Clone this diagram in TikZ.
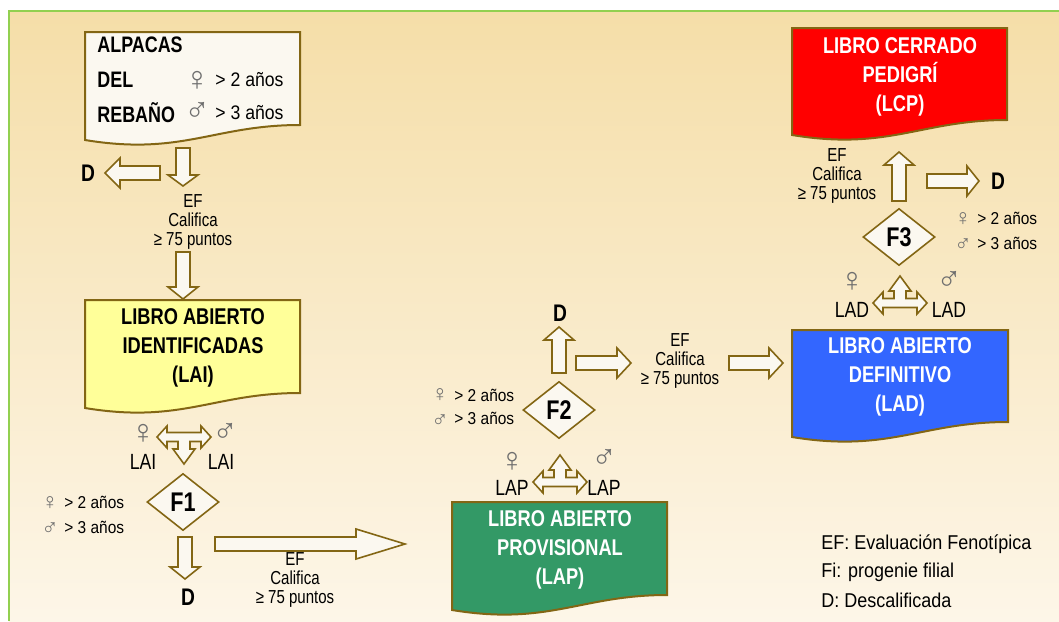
\documentclass[tikz,border=0pt]{standalone}
\usepackage{fontspec}
\setmainfont{Liberation Sans}[FakeStretch=0.9]
\newfontfamily\narrowfont{Liberation Sans}[FakeStretch=0.8]
\newfontfamily\symfont{Liberation Sans}
\usetikzlibrary{shapes.geometric}
\definecolor{bgtop}{RGB}{245,222,168}
\definecolor{bgbot}{RGB}{253,246,232}
\definecolor{framegreen}{RGB}{146,208,80}
\definecolor{brownline}{RGB}{131,102,20}
\definecolor{cream}{RGB}{251,248,240}
\definecolor{laiyellow}{RGB}{255,255,153}
\definecolor{lapgreen}{RGB}{51,153,102}
\definecolor{ladblue}{RGB}{51,102,255}
\definecolor{lcpred}{RGB}{255,0,0}
\definecolor{symgrey}{RGB}{110,110,110}
\tikzset{
	boxline/.style={draw=brownline, line width=1pt},
	arrowline/.style={draw=brownline, fill=cream, line width=0.8pt},
	boxtxt/.style={font=\narrowfont\bfseries\fontsize{11.4}{14.5}\selectfont, align=center, inner sep=0pt},
	herdtxt/.style={font=\narrowfont\bfseries\fontsize{11.2}{13}\selectfont, anchor=west, inner sep=0pt},
	eftxt/.style={font=\narrowfont\fontsize{9.4}{9.4}\selectfont, align=center, inner sep=0pt},
	agetxt/.style={font=\fontsize{8.6}{10}\selectfont, anchor=west, inner sep=0pt},
	sextxt/.style={font=\symfont\fontsize{17}{18}\selectfont, text=symgrey, inner sep=0pt, anchor=base, text height=7pt, text depth=1pt},
	sexstack/.style={font=\symfont\fontsize{11.5}{13}\selectfont, text=symgrey, inner sep=0pt, align=center},
	booktxt/.style={font=\narrowfont\fontsize{11}{12}\selectfont, inner sep=0pt},
	dtxt/.style={font=\narrowfont\bfseries\fontsize{12}{12}\selectfont, inner sep=0pt},
	filter/.style={diamond, draw=brownline, fill=cream, line width=0.8pt, inner sep=0pt, minimum width=36pt, minimum height=28.5pt, font=\narrowfont\bfseries\fontsize{13.5}{14}\selectfont},
	legtxt/.style={font=\fontsize{10}{11}\selectfont, anchor=west, inner sep=0pt},
	pics/blkarr/.style 2 args={code={% {length}{head length}, pointing right
		\draw[arrowline] (0,-7) -- ({#1-#2},-7) -- ({#1-#2},-15) -- (#1,0) -- ({#1-#2},15) -- ({#1-#2},7) -- (0,7) -- cycle;
	}},
	pics/teearr/.style={code={% double arrow with stem, stem pointing down
		\draw[arrowline] (-27,0) -- (-17,-11) -- (-17,-4.5) -- (17,-4.5) -- (17,-11) -- (27,0) -- (17,11) -- (17,4.5) -- (6,4.5) -- (6,12) -- (11,12) -- (0,27) -- (-11,12) -- (-6,12) -- (-6,4.5) -- (-17,4.5) -- (-17,11) -- cycle;
	}},
}
\newcommand{\docshape}[5]{% {fill}{left}{top}{right}{bottom right}
	\draw[boxline, fill=#1] (#2,#3) -- (#4,#3) -- (#4,#5)
	.. controls ({#4-0.4*(#4-#2)},#5) and ({#2+0.45*(#4-#2)},#5+31) .. (#2,#5+15) -- cycle;
}

\begin{document}
\begin{tikzpicture}[x=0.5pt, y=-0.5pt]
	\useasboundingbox (0,0) rectangle (1059,621);
	\fill[top color=bgtop, bottom color=bgbot] (9,11) rectangle (1059,621);
	\draw[framegreen, line width=1.2pt] (9,621) -- (9,11) -- (1059,11);

	% herd (sex symbols placed by baseline)
	\docshape{cream}{85}{32}{300}{125}
	\node[herdtxt] (alp1) at (97,45) {ALPACAS};
	\node[herdtxt] (alp2) at (97,80) {DEL};
	\node[herdtxt] (alp3) at (97,113) {REBAÑO};
	\node[sextxt] (alpf) at (197,90) {♀};
	\node[sextxt] (alpm) at (197,121) {♂};
	\node[agetxt, font=\fontsize{9.8}{11}\selectfont] (alpfa) at (215,80) {> 2 años};
	\node[agetxt, font=\fontsize{9.8}{11}\selectfont] (alpma) at (215,113) {> 3 años};
	\pic (a1) [rotate=-90] at (183,148) {blkarr={38}{11}};
	\pic (a2) [rotate=180] at (160,173) {blkarr={55}{15}};
	\node[dtxt] (d1) at (88,173) {D};
	\node[eftxt] (ef1) at (193,222) {EF\\Califica\\≥ 75 puntos};
	\pic (a3) [rotate=-90] at (183,252) {blkarr={47}{12}};

	% LAI
	\docshape{laiyellow}{85}{300}{300}{393}
	\node[boxtxt] (lai) at (193,348) {LIBRO ABIERTO\\IDENTIFICADAS\\(LAI)};
	\pic (t1) at (184,437) {teearr};
	\node[sextxt] (laif) at (143,443) {♀};
	\node[booktxt] (laifl) at (143,462) {LAI};
	\node[sextxt] (laim) at (225,442) {♂};
	\node[booktxt] (laiml) at (221,462) {LAI};
	\node[filter] (f1) at (183,502) {F1};
	\node[sexstack] (f1sex) at (50,522) {\smash{♀}\\\smash{♂}};
	\node[agetxt] (f1fa) at (64,502) {> 2 años};
	\node[agetxt] (f1ma) at (64,527) {> 3 años};
	\pic (a4) [rotate=-90] at (185,537) {blkarr={42}{12}};
	\node[dtxt] (d2) at (188,597) {D};
	\pic (a5) at (215,544) {blkarr={190}{49}};
	\node[eftxt] (ef2) at (295,580) {EF\\Califica\\≥ 75 puntos};

	% LAP
	\docshape{lapgreen}{452}{502}{667}{595}
	\node[boxtxt, text=white] (lap) at (560,550) {LIBRO ABIERTO\\PROVISIONAL\\(LAP)};
	\pic (t2) [rotate=180] at (560,482) {teearr};
	\node[sextxt] (lapf) at (512,471) {♀};
	\node[booktxt] (lapfl) at (512,488) {LAP};
	\node[sextxt] (lapm) at (604,468) {♂};
	\node[booktxt] (lapml) at (604,488) {LAP};
	\node[filter] (f2) at (559,410) {F2};
	\node[sexstack] (f2sex) at (440,414) {\smash{♀}\\\smash{♂}};
	\node[agetxt] (f2fa) at (454,395) {> 2 años};
	\node[agetxt] (f2ma) at (454,418) {> 3 años};
	\pic (a6) [rotate=90] at (559,373) {blkarr={46}{13}};
	\node[dtxt] (d3) at (560,313) {D};
	\pic (a7) at (576,363) {blkarr={55}{14}};
	\node[eftxt] (ef3) at (680,361) {EF\\Califica\\≥ 75 puntos};
	\pic (a8) at (729,363) {blkarr={54}{14}};

	% LAD
	\docshape{ladblue}{792}{330}{1008}{422}
	\node[boxtxt, text=white] (lad) at (900,377) {LIBRO ABIERTO\\DEFINITIVO\\(LAD)};
	\pic (t3) [rotate=180] at (900,303) {teearr};
	\node[sextxt] (ladf) at (852,291) {♀};
	\node[booktxt] (ladfl) at (852,310) {LAD};
	\node[sextxt] (ladm) at (949,290) {♂};
	\node[booktxt] (ladml) at (949,310) {LAD};
	\node[filter] (f3) at (899,237) {F3};
	\node[sexstack] (f3sex) at (963,238) {\smash{♀}\\\smash{♂}};
	\node[agetxt] (f3fa) at (977,218) {> 2 años};
	\node[agetxt] (f3ma) at (977,243) {> 3 años};
	\pic (a9) [rotate=90] at (899,201) {blkarr={49}{13}};
	\node[eftxt] (ef4) at (837,176) {EF\\Califica\\≥ 75 puntos};
	\pic (a10) at (927,181) {blkarr={52}{12}};
	\node[dtxt] (d4) at (998,181) {D};

	% LCP
	\docshape{lcpred}{792}{28}{1007}{120}
	\node[boxtxt, text=white] (lcp) at (900,77) {LIBRO CERRADO\\PEDIGRÍ\\(LCP)};

	% legend
	\node[legtxt] (leg1) at (821,544) {EF: Evaluación Fenotípica};
	\node[legtxt] (leg2) at (821,572) {Fi: progenie filial};
	\node[legtxt] (leg3) at (821,600) {D: Descalificada};
\end{tikzpicture}
\end{document}
